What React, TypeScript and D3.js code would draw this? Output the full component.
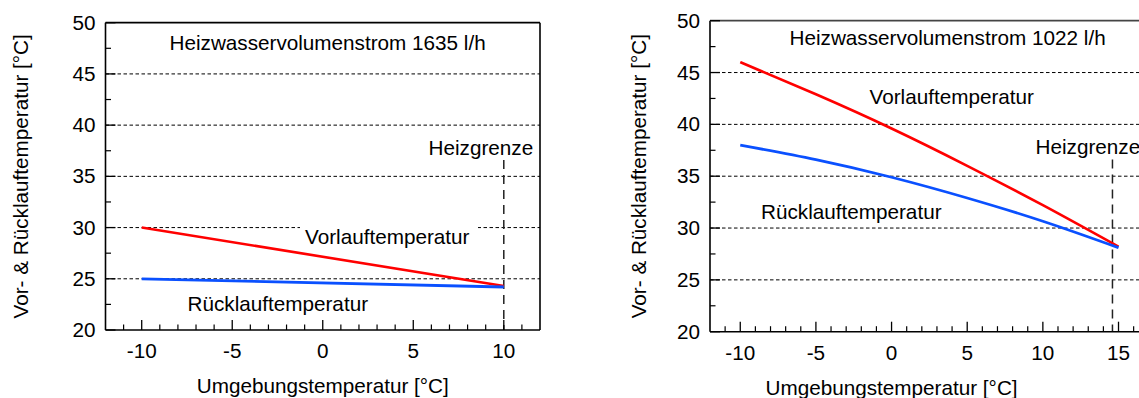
import React from "react";
import * as d3 from "d3";

// ---------- data ----------
const yTickValues = [20, 25, 30, 35, 40, 45, 50];
const gridValues = [25, 30, 35, 40, 45];

const leftXTicks = [-10, -5, 0, 5, 10];
const leftX = [-10, 10];
const leftVorlauf = [30, 24.3];
const leftRuecklauf = [25, 24.2];
const leftHeizgrenze = 10;
const leftTitle = "Heizwasservolumenstrom 1635 l/h";

const rightXTicks = [-10, -5, 0, 5, 10, 15];
const rightX = [-10, -5, 0, 5, 10, 15];
const rightVorlauf = [46, 42.9, 39.6, 36.0, 32.2, 28.2];
const rightRuecklauf = [38, 36.6, 34.9, 32.9, 30.65, 28.1];
const rightHeizgrenze = 14.6;
const rightTitle = "Heizwasservolumenstrom 1022 l/h";

const heizgrenzeTop = 36.6;
const yLabel = "Vor- & Rücklauftemperatur [°C]";
const xLabel = "Umgebungstemperatur [°C]";

const FONT = "'Liberation Sans', Arial, Helvetica, sans-serif";
const FS = 20.7;
const RED = "#ff0000";
const BLUE = "#0a50ff";

type PanelProps = {
  xDomain: [number, number];
  xRange: [number, number];
  yRange: [number, number];
  xTicks: number[];
  xs: number[];
  vor: number[];
  rueck: number[];
  heiz: number;
  curve: any;
  frameRight: boolean;
  frameColor: string;
  texts: { t: string; x: number; y: number; bg?: boolean }[];
  yLabelX: number;
  xLabelY: number;
  xTickLabelY: number;
};

function Panel(p: PanelProps) {
  const x = d3.scaleLinear().domain(p.xDomain).range(p.xRange);
  const y = d3.scaleLinear().domain([20, 50]).range(p.yRange);
  const [x0, x1] = p.xRange;
  const [yb, yt] = p.yRange;
  const minorX = d3.range(Math.ceil(p.xDomain[0]) + 1, Math.floor(p.xDomain[1])).filter((v) => v % 5 !== 0);
  const minorY = d3.range(22.5, 50, 5);
  const line = d3
    .line<[number, number]>()
    .x((d) => x(d[0]))
    .y((d) => y(d[1]))
    .curve(p.curve);
  const vorPts = p.xs.map((v, i) => [v, p.vor[i]] as [number, number]);
  const ruePts = p.xs.map((v, i) => [v, p.rueck[i]] as [number, number]);
  const cy = (yb + yt) / 2;
  const cxAxis = x(0);
  return (
    <g>
      {/* gridlines */}
      {gridValues.map((v) => (
        <line key={"g" + v} x1={x0} x2={x1} y1={y(v)} y2={y(v)} stroke="#000" strokeWidth={1} strokeDasharray="3.5,2.5" />
      ))}
      {/* text backgrounds */}
      {p.texts
        .filter((t) => t.bg)
        .map((t, i) => (
          <rect key={"bg" + i} x={t.x - 5} y={t.y - 20} width={178} height={26} fill="#fff" />
        ))}
      {/* heizgrenze */}
      <line x1={x(p.heiz)} x2={x(p.heiz)} y1={y(heizgrenzeTop)} y2={yb} stroke="#222" strokeWidth={1.5} strokeDasharray="9,6" />
      {/* data */}
      <path d={line(vorPts) || ""} fill="none" stroke={RED} strokeWidth={2.6} />
      <path d={line(ruePts) || ""} fill="none" stroke={BLUE} strokeWidth={2.8} />
      {/* axes */}
      <line x1={x0} x2={x0} y1={yt} y2={yb} stroke="#000" strokeWidth={1.6} />
      <line x1={x0} x2={x1} y1={yb} y2={yb} stroke="#000" strokeWidth={1.6} />
      <line x1={x0} x2={x1} y1={yt} y2={yt} stroke={p.frameColor} strokeWidth={1.8} />
      {p.frameRight && <line x1={x1} x2={x1} y1={yt} y2={yb} stroke="#000" strokeWidth={1.6} />}
      {/* x ticks */}
      {p.xTicks.map((v) => (
        <line key={"xt" + v} x1={x(v)} x2={x(v)} y1={yb} y2={yb - 10} stroke="#000" strokeWidth={1.3} />
      ))}
      {minorX.map((v) => (
        <line key={"xm" + v} x1={x(v)} x2={x(v)} y1={yb} y2={yb - 5.5} stroke="#000" strokeWidth={1.2} />
      ))}
      {/* y ticks */}
      {yTickValues.map((v) => (
        <line key={"yt" + v} x1={x0} x2={x0 + 10} y1={y(v)} y2={y(v)} stroke="#000" strokeWidth={1.3} />
      ))}
      {minorY.map((v) => (
        <line key={"ym" + v} x1={x0} x2={x0 + 5.5} y1={y(v)} y2={y(v)} stroke="#000" strokeWidth={1.2} />
      ))}
      {/* tick labels */}
      {p.xTicks.map((v) => (
        <text key={"xl" + v} x={x(v)} y={p.xTickLabelY} textAnchor="middle" fontSize={FS} fontFamily={FONT}>
          {v}
        </text>
      ))}
      {yTickValues.map((v) => (
        <text key={"yl" + v} x={x0 - 10} y={y(v) + 7} textAnchor="end" fontSize={FS} fontFamily={FONT}>
          {v}
        </text>
      ))}
      {/* axis labels */}
      <text
        transform={`translate(${p.yLabelX},${cy}) rotate(-90)`}
        textAnchor="middle"
        fontSize={FS}
        fontFamily={FONT}
      >
        {yLabel}
      </text>
      <text x={cxAxis} y={p.xLabelY} textAnchor="middle" fontSize={FS} fontFamily={FONT}>
        {xLabel}
      </text>
      {/* annotations */}
      {p.texts.map((t, i) => (
        <text key={"t" + i} x={t.x} y={t.y} fontSize={FS} fontFamily={FONT}>
          {t.t}
        </text>
      ))}
    </g>
  );
}

export default function App() {
  return (
    <svg
      width={1139}
      height={398}
      style={{ position: "absolute", left: 0, top: 0, background: "#fff", overflow: "hidden" }}
    >
      <rect x={0} y={0} width={1139} height={398} fill="#fff" />
      <Panel
        xDomain={[-12, 12]}
        xRange={[105.5, 540]}
        yRange={[330, 22.7]}
        xTicks={leftXTicks}
        xs={leftX}
        vor={leftVorlauf}
        rueck={leftRuecklauf}
        heiz={leftHeizgrenze}
        curve={d3.curveLinear}
        frameRight={true}
        frameColor="#000"
        yLabelX={28}
        xLabelY={392.5}
        xTickLabelY={357.5}
        texts={[
          { t: leftTitle, x: 169.5, y: 50 },
          { t: "Heizgrenze", x: 428.5, y: 155 },
          { t: "Vorlauftemperatur", x: 305, y: 243.5, bg: true },
          { t: "Rücklauftemperatur", x: 187.5, y: 311 },
        ]}
      />
      <Panel
        xDomain={[-12, 18]}
        xRange={[710, 710 + 30 * 15.13]}
        yRange={[331.7, 20.7]}
        xTicks={rightXTicks}
        xs={rightX}
        vor={rightVorlauf}
        rueck={rightRuecklauf}
        heiz={rightHeizgrenze}
        curve={d3.curveNatural}
        frameRight={false}
        frameColor="#444"
        yLabelX={646}
        xLabelY={394.5}
        xTickLabelY={359.5}
        texts={[
          { t: rightTitle, x: 789.5, y: 45 },
          { t: "Vorlauftemperatur", x: 869.5, y: 104 },
          { t: "Heizgrenze", x: 1035.5, y: 154 },
          { t: "Rücklauftemperatur", x: 761, y: 219 },
        ]}
      />
    </svg>
  );
}
